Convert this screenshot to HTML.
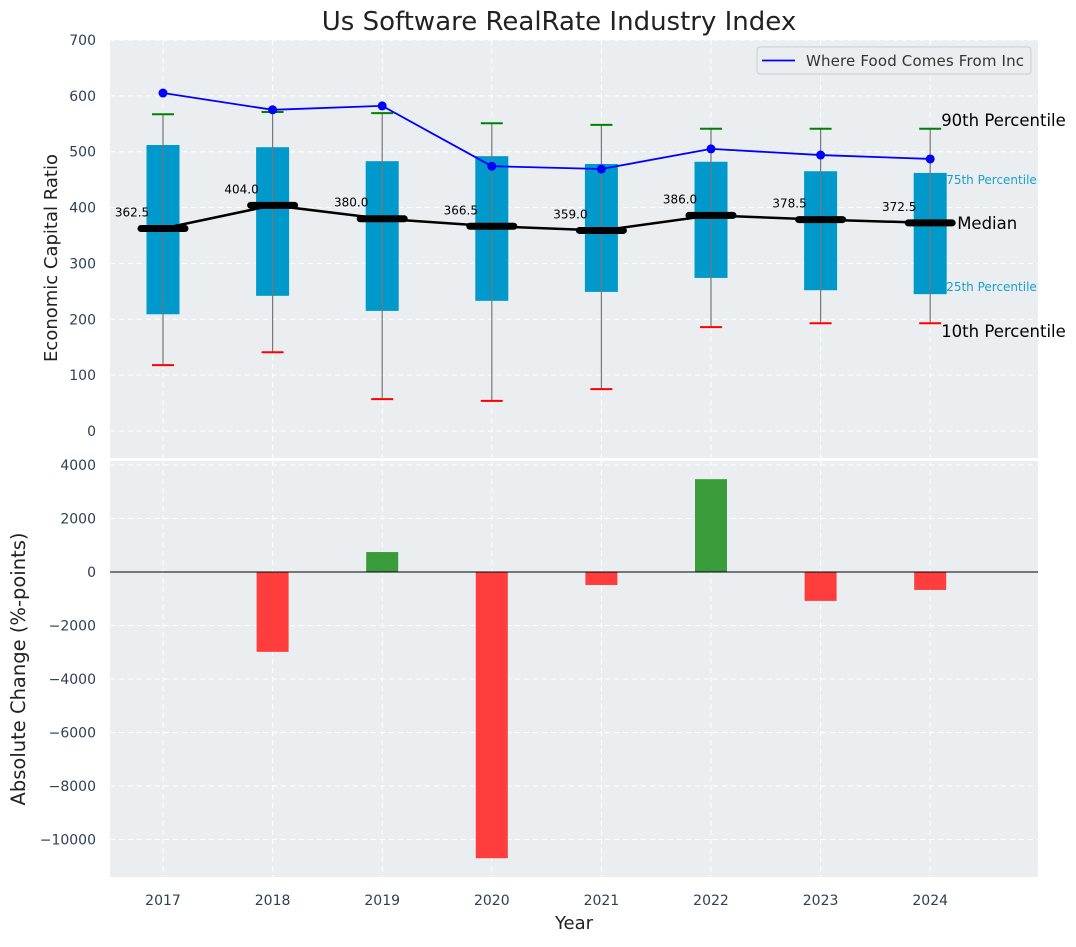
<!DOCTYPE html>
<html><head><meta charset="utf-8"><style>
body{margin:0;background:#fff;font-family:"Liberation Sans","DejaVu Sans",sans-serif}
svg text{font-family:"DejaVu Sans","Liberation Sans",sans-serif}
</style></head><body>
<svg id="c" width="1076" height="942" xmlns="http://www.w3.org/2000/svg"></svg>
<script>
const years=[2017,2018,2019,2020,2021,2022,2023,2024];
const p10=[118,141,57,54,75,186,193,193];
const p25=[209,242,215,233,249,274,252,245];
const median=[362.5,404.0,380.0,366.5,359.0,386.0,378.5,372.5];
const p75=[512,508,483,492,478,482,465,462];
const p90=[567,571,569,551,548,541,541,541];
const company=[605,575,582,474,469,505,494,487];
const change=[0,-2985,746,-10700,-485,3470,-1080,-670];
const topTicks=[0,100,200,300,400,500,600,700];
const botTicks=[-10000,-8000,-6000,-4000,-2000,0,2000,4000];

const svg=document.getElementById('c');
const NS='http://www.w3.org/2000/svg';
function el(t,a,p){const e=document.createElementNS(NS,t);for(const k in a)e.setAttribute(k,a[k]);(p||svg).appendChild(e);return e;}
const L=110,R=1038;
const x=y=>163+(y-2017)*109.6;
const yT=v=>431-v*0.5586;
const yB=v=>572-v*0.02675;

let e=el('rect',{x:L,y:40,width:R-L,height:418,fill:'#eaeef0'});

e=el('rect',{x:L,y:461,width:R-L,height:416,fill:'#eaeef0'});


topTicks.forEach(t=>{el('line',{x1:L,x2:R,y1:yT(t),y2:yT(t),stroke:'#fff','stroke-dasharray':'5,4','stroke-width':1});
 e=el('text',{x:96,y:yT(t)+5,'text-anchor':'end','font-size':14,fill:'#2e4053'});e.textContent=t;
 });
botTicks.forEach(t=>{el('line',{x1:L,x2:R,y1:yB(t),y2:yB(t),stroke:'#fff','stroke-dasharray':'5,4','stroke-width':1});
 e=el('text',{x:96,y:yB(t)+5,'text-anchor':'end','font-size':14,fill:'#2e4053'});e.textContent=t<0?'\u2212'+(-t):t;
 });
years.forEach(yr=>{
 el('line',{x1:x(yr),x2:x(yr),y1:40,y2:458,stroke:'#fff','stroke-dasharray':'5,4'});
 el('line',{x1:x(yr),x2:x(yr),y1:461,y2:877,stroke:'#fff','stroke-dasharray':'5,4'});
 e=el('text',{x:x(yr),y:905,'text-anchor':'middle','font-size':14,fill:'#2e4053'});e.textContent=yr;
 
});

years.forEach((yr,i)=>{
 const cx=x(yr);
 e=el('rect',{x:cx-16.5,y:yT(p75[i]),width:33,height:yT(p25[i])-yT(p75[i]),fill:'#0099cc'});
 
 el('line',{x1:cx,x2:cx,y1:yT(p90[i]),y2:yT(p10[i]),stroke:'#777','stroke-width':1.2});
 el('line',{x1:cx-11,x2:cx+11,y1:yT(p90[i]),y2:yT(p90[i]),stroke:'green','stroke-width':2});
 el('line',{x1:cx-11,x2:cx+11,y1:yT(p10[i]),y2:yT(p10[i]),stroke:'red','stroke-width':2});
});
e=el('polyline',{points:years.map((yr,i)=>x(yr)+','+yT(median[i])).join(' '),fill:'none',stroke:'#000','stroke-width':2.5});

years.forEach((yr,i)=>{
 el('line',{x1:x(yr)-22,x2:x(yr)+22,y1:yT(median[i]),y2:yT(median[i]),stroke:'#000','stroke-width':7,'stroke-linecap':'round'});
 e=el('text',{x:x(yr)-31,y:yT(median[i])-12,'text-anchor':'middle','font-size':12,fill:'#000'});e.textContent=median[i].toFixed(1);
 
});
e=el('polyline',{points:years.map((yr,i)=>x(yr)+','+yT(company[i])).join(' '),fill:'none',stroke:'blue','stroke-width':1.8});

years.forEach((yr,i)=>{e=el('circle',{cx:x(yr),cy:yT(company[i]),r:4.5,fill:'blue'});
 });

const lx=x(2024);
[['90th Percentile',lx+11,yT(p90[7])-3,16.5,'#000'],['75th Percentile',lx+16,yT(p75[7])+11,12,'#1a9fcc'],
 ['Median',lx+27,yT(median[7])+6,16.5,'#000'],['25th Percentile',lx+16,yT(p25[7])-3,12,'#1a9fcc'],
 ['10th Percentile',lx+11,yT(p10[7])+14,16.5,'#000']].forEach(a=>{
 e=el('text',{x:a[1],y:a[2],'font-size':a[3],fill:a[4]});e.textContent=a[0];
 });

e=el('rect',{x:757,y:47,width:274,height:27,rx:3,fill:'#eaeef0',stroke:'#ccc'});

el('line',{x1:762,x2:795,y1:60.5,y2:60.5,stroke:'blue','stroke-width':1.8});
e=el('text',{x:806,y:66,'font-size':15,fill:'#333',textLength:218});e.textContent='Where Food Comes From Inc';


years.forEach((yr,i)=>{
 const v=change[i];if(!v)return;
 const y0=yB(Math.max(v,0)),y1=yB(Math.min(v,0));
 e=el('rect',{x:x(yr)-16,y:y0,width:32,height:y1-y0,fill:v>0?'#3a9b3a':'#ff3d3d'});
 
});
el('line',{x1:L,x2:R,y1:yB(0),y2:yB(0),stroke:'#000','stroke-width':1});

e=el('text',{x:559,y:30,'text-anchor':'middle','font-size':26,fill:'#222'});e.textContent='Us Software RealRate Industry Index';

e=el('text',{x:574,y:929,'text-anchor':'middle','font-size':18,fill:'#222'});e.textContent='Year';

e=el('text',{x:0,y:0,'text-anchor':'middle','font-size':18,fill:'#222',transform:'translate(57,258) rotate(-90)'});e.textContent='Economic Capital Ratio';

e=el('text',{x:0,y:0,'text-anchor':'middle','font-size':19.5,fill:'#222',transform:'translate(25,669) rotate(-90)'});e.textContent='Absolute Change (%-points)';

</script>
</body></html>
